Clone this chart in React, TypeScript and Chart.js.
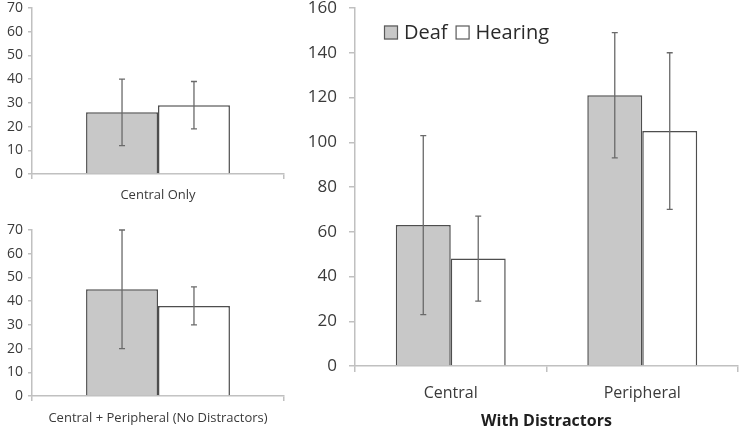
import React, { useEffect, useRef } from "react";
import { Chart, registerables } from "chart.js";

Chart.register(...registerables);

// ---------- data ----------
const seriesNames = ["Deaf", "Hearing"];

const topCategories = ["Central Only"];
const topDeaf = [26];
const topDeafLow = [12];
const topDeafHigh = [40];
const topHearing = [29];
const topHearingLow = [19];
const topHearingHigh = [39];

const bottomCategories = ["Central + Peripheral (No Distractors)"];
const bottomDeaf = [45];
const bottomDeafLow = [20];
const bottomDeafHigh = [70];
const bottomHearing = [38];
const bottomHearingLow = [30];
const bottomHearingHigh = [46];

const rightCategories = ["Central", "Peripheral"];
const rightDeaf = [63, 121];
const rightDeafLow = [23, 93];
const rightDeafHigh = [103, 149];
const rightHearing = [48, 105];
const rightHearingLow = [29, 70];
const rightHearingHigh = [67, 140];
const rightTitle = "With Distractors";

const leftAxisMax = 70;
const leftAxisStep = 10;
const rightAxisMax = 160;
const rightAxisStep = 20;

// ---------- styles ----------
const FONT = "'Open Sans', 'DejaVu Sans', sans-serif";
const TEXT = "#3a3a3a";
const AXIS = "#c0c0c0";
const DEAF_FILL = "#c8c8c8";
const BORDER = "#4e4e4e";
const ERR = "#6a6a6a";

const errorBarsPlugin = {
  id: "errorBars",
  afterDatasetsDraw(chart: any) {
    const { ctx } = chart;
    const yScale = chart.scales.y;
    chart.data.datasets.forEach((ds: any, i: number) => {
      const meta = chart.getDatasetMeta(i);
      if (meta.hidden) return;
      meta.data.forEach((bar: any, j: number) => {
        const x = bar.x;
        const yl = yScale.getPixelForValue(ds.errLow[j]);
        const yh = yScale.getPixelForValue(ds.errHigh[j]);
        ctx.save();
        ctx.strokeStyle = ERR;
        ctx.lineWidth = 1.3;
        ctx.beginPath();
        ctx.moveTo(x, yl);
        ctx.lineTo(x, yh);
        ctx.moveTo(x - 3, yl);
        ctx.lineTo(x + 3, yl);
        ctx.moveTo(x - 3, yh);
        ctx.lineTo(x + 3, yh);
        ctx.stroke();
        ctx.restore();
      });
    });
  },
};

// Inline horizontal legend inside the chart area (top-left corner)
const inlineLegendPlugin = {
  id: "inlineLegend",
  afterDraw(chart: any, _args: any, opts: any) {
    if (!opts || !opts.display) return;
    const { ctx, chartArea } = chart;
    const box = 14;
    let x = chartArea.left + opts.dx;
    const cy = chartArea.top + opts.dy;
    ctx.save();
    ctx.font = `${opts.size}px ${FONT}`;
    ctx.textBaseline = "middle";
    ctx.textAlign = "left";
    chart.data.datasets.forEach((ds: any) => {
      ctx.fillStyle = ds.backgroundColor;
      ctx.fillRect(x, cy - box / 2, box, box);
      ctx.strokeStyle = "#5a5a5a";
      ctx.lineWidth = 1.2;
      ctx.strokeRect(x + 0.5, cy - box / 2 + 0.5, box - 1, box - 1);
      x += box + 6;
      ctx.fillStyle = "#2a2a2a";
      ctx.fillText(ds.label, x, cy + 1);
      x += ctx.measureText(ds.label).width + 8;
    });
    ctx.restore();
  },
};

type PanelSpec = {
  x: number;
  y: number;
  w: number;
  h: number;
  categories: string[];
  deaf: number[];
  deafLow: number[];
  deafHigh: number[];
  hearing: number[];
  hearingLow: number[];
  hearingHigh: number[];
  max: number;
  step: number;
  yWidth: number;
  xHeight: number;
  padding: { top: number; right: number; bottom: number; left: number };
  tickFont: number;
  yTickLen: number;
  yTickPad: number;
  xTickFont: number;
  xTickLen: number;
  xTickPad: number;
  catPct: number;
  legend: boolean;
  title?: string;
};

function buildConfig(s: PanelSpec): any {
  return {
    type: "bar",
    data: {
      labels: s.categories,
      datasets: [
        {
          label: seriesNames[0],
          data: s.deaf,
          errLow: s.deafLow,
          errHigh: s.deafHigh,
          backgroundColor: DEAF_FILL,
          borderColor: BORDER,
          borderWidth: 1.5,
        },
        {
          label: seriesNames[1],
          data: s.hearing,
          errLow: s.hearingLow,
          errHigh: s.hearingHigh,
          backgroundColor: "#ffffff",
          borderColor: BORDER,
          borderWidth: 1.5,
        },
      ],
    },
    options: {
      responsive: false,
      animation: false,
      devicePixelRatio: 1,
      layout: { padding: s.padding },
      datasets: {
        bar: { categoryPercentage: s.catPct, barPercentage: 1 },
      },
      scales: {
        x: {
          afterFit: (sc: any) => {
            sc.height = s.xHeight;
            sc.paddingLeft = 0;
            sc.paddingRight = 0;
          },
          grid: {
            display: true,
            drawOnChartArea: false,
            drawTicks: true,
            tickLength: s.xTickLen,
            color: AXIS,
            lineWidth: 1.5,
            offset: true,
          },
          border: { color: AXIS, width: 1.5 },
          ticks: {
            font: { family: FONT, size: s.xTickFont },
            color: TEXT,
            padding: s.xTickPad,
            maxRotation: 0,
            autoSkip: false,
          },
          title: s.title
            ? {
                display: true,
                text: s.title,
                color: "#1e1e1e",
                font: { family: FONT, size: 16, weight: "bold" },
                padding: { top: 0, bottom: 0 },
              }
            : { display: false },
        },
        y: {
          min: 0,
          max: s.max,
          afterFit: (sc: any) => {
            sc.width = s.yWidth;
            sc.paddingTop = 0;
            sc.paddingBottom = 0;
          },
          grid: {
            display: true,
            drawOnChartArea: false,
            drawTicks: true,
            tickLength: s.yTickLen,
            color: AXIS,
            lineWidth: 1.5,
          },
          border: { color: AXIS, width: 1.5 },
          ticks: {
            stepSize: s.step,
            font: { family: FONT, size: s.tickFont, lineHeight: 1 },
            color: TEXT,
            padding: s.yTickPad,
          },
        },
      },
      plugins: {
        tooltip: { enabled: false },
        legend: { display: false },
        inlineLegend: s.legend
          ? { display: true, dx: 29, dy: 24.5, size: 20 }
          : { display: false },
      },
    },
    plugins: [errorBarsPlugin, inlineLegendPlugin],
  };
}

const panels: PanelSpec[] = [
  {
    x: 0, y: 0, w: 290, h: 205,
    categories: topCategories,
    deaf: topDeaf, deafLow: topDeafLow, deafHigh: topDeafHigh,
    hearing: topHearing, hearingLow: topHearingLow, hearingHigh: topHearingHigh,
    max: leftAxisMax, step: leftAxisStep,
    yWidth: 32, xHeight: 31,
    padding: { top: 8, right: 6, bottom: 0, left: 0 },
    tickFont: 14, yTickLen: 4, yTickPad: 5,
    xTickFont: 13, xTickLen: 5, xTickPad: 8,
    catPct: 0.571, legend: false,
  },
  {
    x: 0, y: 210, w: 290, h: 221,
    categories: bottomCategories,
    deaf: bottomDeaf, deafLow: bottomDeafLow, deafHigh: bottomDeafHigh,
    hearing: bottomHearing, hearingLow: bottomHearingLow, hearingHigh: bottomHearingHigh,
    max: leftAxisMax, step: leftAxisStep,
    yWidth: 32, xHeight: 35,
    padding: { top: 20, right: 6, bottom: 0, left: 0 },
    tickFont: 14, yTickLen: 4, yTickPad: 5,
    xTickFont: 13, xTickLen: 5, xTickPad: 9,
    catPct: 0.571, legend: false,
  },
  {
    x: 300, y: 0, w: 442, h: 431,
    categories: rightCategories,
    deaf: rightDeaf, deafLow: rightDeafLow, deafHigh: rightDeafHigh,
    hearing: rightHearing, hearingLow: rightHearingLow, hearingHigh: rightHearingHigh,
    max: rightAxisMax, step: rightAxisStep,
    yWidth: 55, xHeight: 65,
    padding: { top: 8, right: 4, bottom: 0, left: 0 },
    tickFont: 17, yTickLen: 6, yTickPad: 12,
    xTickFont: 16, xTickLen: 6, xTickPad: 12,
    catPct: 0.574, legend: true, title: rightTitle,
  },
];

function BarPanel({ spec }: { spec: PanelSpec }) {
  const ref = useRef<HTMLCanvasElement | null>(null);
  useEffect(() => {
    if (!ref.current) return;
    const chart = new Chart(ref.current, buildConfig(spec));
    return () => chart.destroy();
  }, [spec]);
  return (
    <canvas
      ref={ref}
      width={spec.w}
      height={spec.h}
      style={{
        position: "absolute",
        left: spec.x,
        top: spec.y,
        width: spec.w,
        height: spec.h,
        display: "block",
      }}
    />
  );
}

export default function App() {
  return (
    <div
      style={{
        position: "absolute",
        left: 0,
        top: 0,
        width: 742,
        height: 431,
        background: "#ffffff",
        overflow: "hidden",
      }}
    >
      {panels.map((p, i) => (
        <BarPanel key={i} spec={p} />
      ))}
    </div>
  );
}
